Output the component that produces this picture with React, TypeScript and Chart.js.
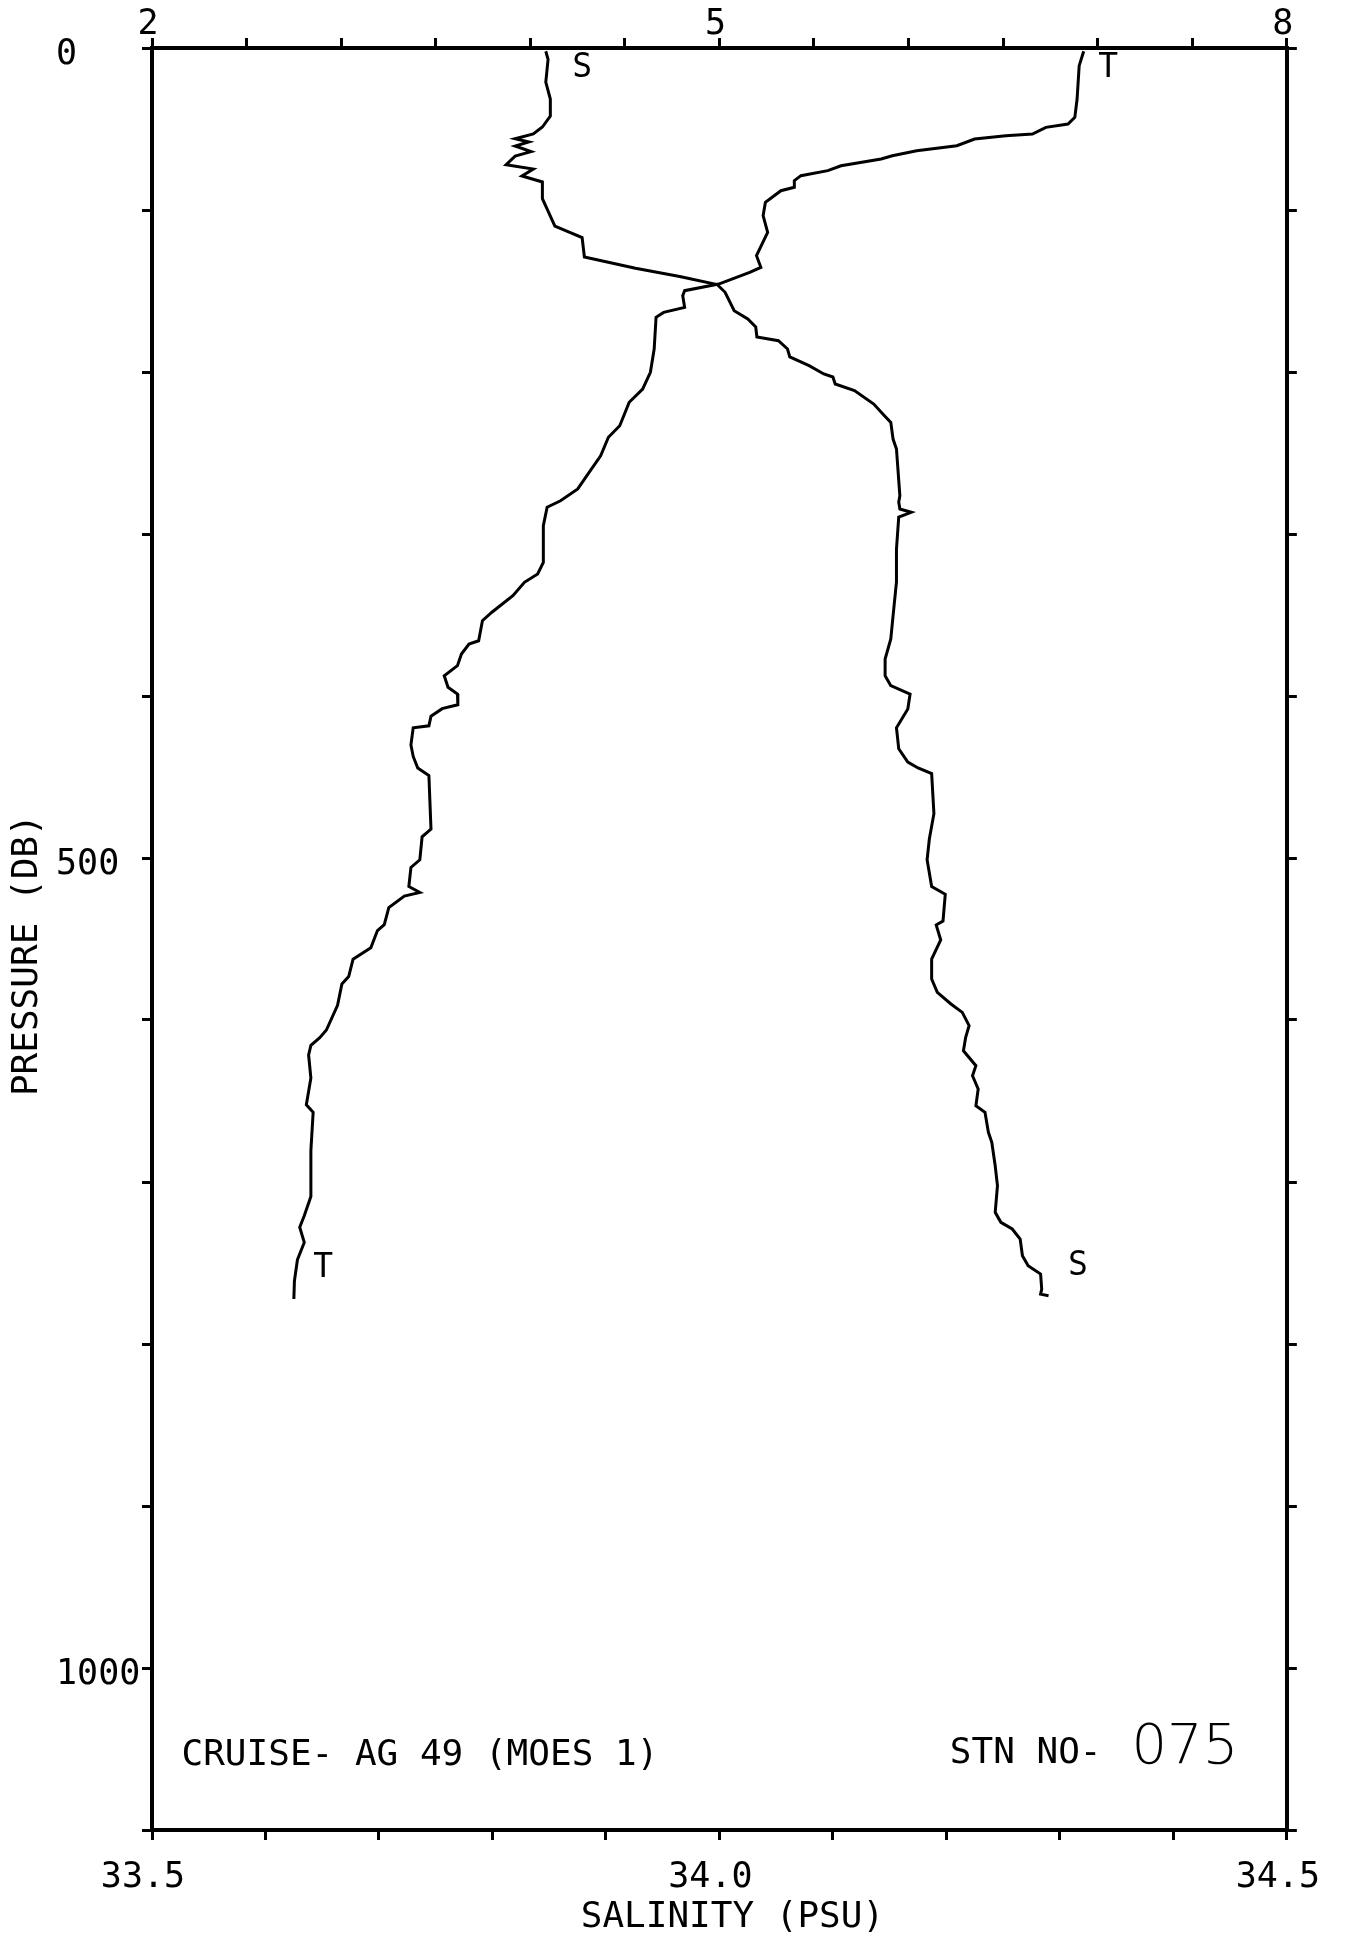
import React, { useEffect, useRef } from 'react';
import { Chart, registerables } from 'chart.js';

Chart.register(...registerables);

// Salinity profile (PSU) vs pressure (dbar)
const salinityPressure = [
  2, 7, 21, 31.5, 42, 48.8, 53, 56, 58, 60.5,
  64, 66.7, 72, 74.7, 79, 82.7, 93, 110, 117, 129,
  136, 141, 146, 150.8, 162.2, 167.3, 172.2, 178.4, 180.7, 185.8,
  190.7, 196.1, 201.2, 203.1, 207.4, 211.5, 219.8, 225.9, 231.1, 241.4,
  247.5, 276.4, 280.3, 284.6, 286.6, 289.5, 309.3, 329.6, 350.5, 364.8,
  377.2, 387.5, 393.6, 398.8, 408, 419.6, 432.6, 440.8, 444.4, 447.9,
  472.7, 488.1, 501.1, 517.6, 522.4, 538.9, 541.3, 550.6, 562.4, 574.7,
  582.9, 590.1, 595.3, 603.5, 610.7, 619, 628.2, 634.4, 642.6, 652.9,
  657, 669.3, 675.5, 690, 702.3, 718.7, 724.9, 729, 735.2, 745.5,
  751.7, 756.8, 766.1, 769.2, 770.2,
];
const salinity = [
  33.847, 33.849, 33.847, 33.851, 33.851, 33.844, 33.836, 33.820, 33.832, 33.820,
  33.834, 33.820, 33.812, 33.836, 33.826, 33.844, 33.844, 33.855, 33.879, 33.881,
  33.926, 33.965, 33.998, 34.005, 34.013, 34.025, 34.032, 34.033, 34.052, 34.060,
  34.062, 34.079, 34.092, 34.100, 34.102, 34.119, 34.136, 34.144, 34.151, 34.153,
  34.156, 34.159, 34.158, 34.159, 34.169, 34.158, 34.156, 34.156, 34.153, 34.151,
  34.146, 34.146, 34.151, 34.168, 34.166, 34.156, 34.158, 34.166, 34.175, 34.187,
  34.189, 34.185, 34.183, 34.187, 34.199, 34.197, 34.191, 34.195, 34.187, 34.187,
  34.192, 34.204, 34.214, 34.220, 34.217, 34.215, 34.226, 34.223, 34.228, 34.226,
  34.234, 34.237, 34.240, 34.243, 34.245, 34.243, 34.248, 34.258, 34.265, 34.267,
  34.272, 34.283, 34.284, 34.283, 34.290,
];

// Temperature profile (deg C) vs pressure (dbar)
const temperaturePressure = [
  2, 10.9, 31.5, 42.8, 46.9, 49, 53.1, 54.1, 56.2, 60.3,
  63.4, 66.5, 68.5, 72.7, 75.7, 78.8, 81.9, 86, 88.1, 95.2,
  103.5, 113.8, 128.2, 135.4, 138.5, 145.7, 149.8, 152.9, 160.1, 163.2,
  166.2, 185.8, 200.2, 210.5, 218.7, 233.2, 240.3, 251.7, 261.9, 272.2,
  279.5, 283.5, 294.9, 317.5, 324.7, 329.8, 338.1, 348.3, 353.5, 365.9,
  367.9, 374.1, 381.3, 387.5, 394.6, 398.8, 405.4, 407.8, 412.5, 418.4,
  419.6, 430.2, 437.3, 444.4, 449.1, 482.2, 486.9, 501.1, 505.8, 517.6,
  521.2, 523.5, 530.6, 541.2, 544.8, 555.4, 562.5, 573.2, 577.8, 590.9,
  606.2, 610.9, 615.7, 621.6, 635.8, 652.3, 657, 680.6, 709, 720.8,
  727.9, 737.3, 748, 761, 772.2,
];
const temperature = [
  6.926, 6.902, 6.891, 6.879, 6.843, 6.726, 6.655, 6.514, 6.349, 6.255,
  6.043, 5.914, 5.855, 5.643, 5.573, 5.431, 5.396, 5.396, 5.325, 5.243,
  5.231, 5.255, 5.196, 5.219, 5.160, 4.996, 4.816, 4.806, 4.816, 4.705,
  4.665, 4.655, 4.635, 4.594, 4.523, 4.473, 4.413, 4.372, 4.311, 4.251,
  4.160, 4.089, 4.069, 4.069, 4.039, 3.969, 3.908, 3.797, 3.747, 3.727,
  3.676, 3.636, 3.615, 3.545, 3.565, 3.615, 3.617, 3.534, 3.475, 3.464,
  3.381, 3.369, 3.381, 3.405, 3.464, 3.475, 3.428, 3.416, 3.369, 3.358,
  3.416, 3.334, 3.252, 3.228, 3.192, 3.157, 3.063, 3.040, 3.004, 2.981,
  2.922, 2.887, 2.840, 2.828, 2.840, 2.816, 2.852, 2.840, 2.840, 2.805,
  2.781, 2.805, 2.769, 2.753, 2.750,
];

// Axis ranges and labelled ticks
const pressureRange = [0, 1100];
const salinityRange = [33.5, 34.5];
const temperatureRange = [2, 8];
const pressureTicks = [0, 500, 1000];
const salinityTicks = [33.5, 34.0, 34.5];
const temperatureTicks = [2, 5, 8];

// Curve-end tags (text, axis, value, pressure at baseline)
const tagText = ['S', 'T', 'T', 'S'];
const tagAxis = ['xS', 'xT', 'xT', 'xS'];
const tagValue = [33.879, 7.055, 2.905, 34.316];
const tagPressure = [17.9, 17.9, 758.6, 757.4];

const yTitle = 'PRESSURE (DB)';
const xTitle = 'SALINITY (PSU)';
const cruiseLabel = 'CRUISE- AG 49 (MOES 1)';
const stationLabel = 'STN NO-';
const stationNumber = '075';

const MONO = '"DejaVu Sans Mono", "Liberation Mono", monospace';

const near = (list: number[], v: number) => list.some((t) => Math.abs(t - v) < 1e-6);

const textPlugin = {
  id: 'plotText',
  afterDraw(chart: any) {
    const ctx = chart.ctx as CanvasRenderingContext2D;
    const { xS, xT, y } = chart.scales;
    const area = chart.chartArea;
    ctx.save();
    ctx.fillStyle = '#000';

    // curve tags
    ctx.font = `33px ${MONO}`;
    ctx.textAlign = 'center';
    ctx.textBaseline = 'alphabetic';
    tagText.forEach((t, i) => {
      const sc = tagAxis[i] === 'xS' ? xS : xT;
      ctx.fillText(t, sc.getPixelForValue(tagValue[i]), y.getPixelForValue(tagPressure[i]));
    });

    // cruise / station text
    ctx.font = `36px ${MONO}`;
    ctx.textAlign = 'left';
    ctx.fillText(cruiseLabel, xS.getPixelForValue(33.526), y.getPixelForValue(1059.9));
    ctx.fillText(stationLabel, xS.getPixelForValue(34.203), y.getPixelForValue(1058.6));
    ctx.font = '200 56px "DejaVu Sans", "Liberation Sans", sans-serif';
    ctx.fillText(stationNumber, xS.getPixelForValue(34.363), y.getPixelForValue(1058.6));

    // x title
    ctx.font = `36px ${MONO}`;
    ctx.textAlign = 'center';
    ctx.fillText(xTitle, (area.left + area.right) / 2 + 13, chart.height - 9);

    // y title (rotated)
    ctx.translate(y.left - 28, y.getPixelForValue(560));
    ctx.rotate(-Math.PI / 2);
    ctx.textAlign = 'center';
    ctx.textBaseline = 'middle';
    ctx.fillText(yTitle, 0, 0);

    ctx.restore();
  },
};

const gridOpts = {
  drawOnChartArea: false,
  drawTicks: true,
  tickLength: 10,
  tickWidth: 3,
  tickColor: '#000',
  color: '#000',
  lineWidth: 3,
};
const borderOpts = { display: true, color: '#000', width: 4 };
const tickFont = { family: MONO, size: 35 };

export default function App() {
  const canvasRef = useRef<HTMLCanvasElement | null>(null);

  useEffect(() => {
    const canvas = canvasRef.current;
    if (!canvas) return;
    const chart = new Chart(canvas, {
      type: 'scatter',
      data: {
        datasets: [
          {
            label: 'Salinity',
            data: salinity.map((v, i) => ({ x: v, y: salinityPressure[i] })),
            xAxisID: 'xS',
            yAxisID: 'y',
            showLine: true,
            borderColor: '#000',
            backgroundColor: '#000',
            borderWidth: 3,
            pointRadius: 0,
            tension: 0,
            fill: false,
          },
          {
            label: 'Temperature',
            data: temperature.map((v, i) => ({ x: v, y: temperaturePressure[i] })),
            xAxisID: 'xT',
            yAxisID: 'y',
            showLine: true,
            borderColor: '#000',
            backgroundColor: '#000',
            borderWidth: 3,
            pointRadius: 0,
            tension: 0,
            fill: false,
          },
        ],
      },
      options: {
        animation: false,
        responsive: false,
        devicePixelRatio: 1,
        layout: { padding: { left: 56, right: 0, top: 0, bottom: 0 } },
        plugins: { legend: { display: false }, tooltip: { enabled: false } },
        scales: {
          y: {
            type: 'linear',
            axis: 'y',
            position: 'left',
            reverse: true,
            min: pressureRange[0],
            max: pressureRange[1],
            afterFit: (s: any) => { s.width = 96; },
            grid: gridOpts,
            border: borderOpts,
            ticks: {
              stepSize: 100,
              autoSkip: false,
              crossAlign: 'far',
              labelOffset: 7,
              color: '#000',
              font: tickFont,
              callback: (v: any) => (near(pressureTicks, Number(v)) ? String(Math.round(Number(v))) : ''),
            },
          },
          y2: {
            type: 'linear',
            axis: 'y',
            position: 'right',
            reverse: true,
            min: pressureRange[0],
            max: pressureRange[1],
            afterFit: (s: any) => { s.width = 57; },
            grid: gridOpts,
            border: borderOpts,
            ticks: { stepSize: 100, autoSkip: false, callback: () => '' },
          },
          xS: {
            type: 'linear',
            axis: 'x',
            position: 'bottom',
            min: salinityRange[0],
            max: salinityRange[1],
            afterFit: (s: any) => { s.height = 106; },
            grid: gridOpts,
            border: borderOpts,
            ticks: {
              stepSize: 0.1,
              autoSkip: false,
              maxRotation: 0,
              minRotation: 0,
              padding: 17,
              labelOffset: -9,
              color: '#000',
              font: tickFont,
              callback: (v: any) => (near(salinityTicks, Number(v)) ? Number(v).toFixed(1) : ''),
            },
          },
          xT: {
            type: 'linear',
            axis: 'x',
            position: 'top',
            min: temperatureRange[0],
            max: temperatureRange[1],
            afterFit: (s: any) => { s.height = 48; },
            grid: gridOpts,
            border: borderOpts,
            ticks: {
              stepSize: 0.5,
              autoSkip: false,
              maxRotation: 0,
              minRotation: 0,
              padding: -8,
              labelOffset: -4,
              color: '#000',
              font: tickFont,
              callback: (v: any) => (near(temperatureTicks, Number(v)) ? String(Math.round(Number(v))) : ''),
            },
          },
        },
      } as any,
      plugins: [textPlugin],
    });
    return () => chart.destroy();
  }, []);

  return (
    <div style={{ position: 'absolute', left: 0, top: 0, width: 1346, height: 1936, background: '#fff' }}>
      <canvas ref={canvasRef} width={1346} height={1936} style={{ display: 'block' }} />
    </div>
  );
}
